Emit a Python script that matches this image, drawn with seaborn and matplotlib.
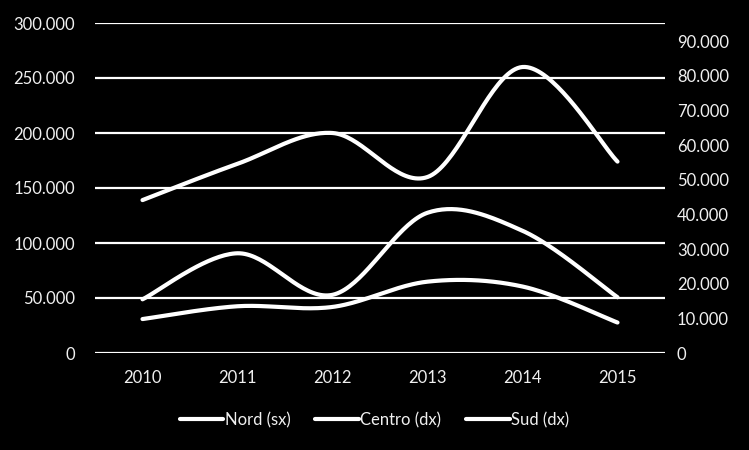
import numpy as np
import pandas as pd
import matplotlib
matplotlib.use("Agg")
import matplotlib.pyplot as plt
import seaborn as sns
from matplotlib.ticker import FuncFormatter

years = ["2010", "2011", "2012", "2013", "2014", "2015"]
nord = [139000, 172000, 200000, 160000, 260000, 174000]     # left axis (sx)
centro = [15500, 28800, 16800, 40500, 35300, 16100]         # right axis (dx)
sud = [9800, 13500, 13300, 20600, 19200, 8800]              # right axis (dx)

left_ticks = [0, 50000, 100000, 150000, 200000, 250000, 300000]
right_ticks = [0, 10000, 20000, 30000, 40000, 50000, 60000, 70000, 80000, 90000]


def smooth(xs, ys, n=40):
    """Excel-like smoothed line: Catmull-Rom Bezier between points."""
    P = np.column_stack([xs, ys]).astype(float)
    out = []
    for i in range(len(P) - 1):
        p0 = P[i - 1] if i > 0 else P[i]
        p1, p2 = P[i], P[i + 1]
        p3 = P[i + 2] if i + 2 < len(P) else P[i + 1]
        c1 = p1 + (p2 - p0) / 6
        c2 = p2 - (p3 - p1) / 6
        t = np.linspace(0, 1, n)[:, None]
        seg = ((1 - t) ** 3) * p1 + 3 * ((1 - t) ** 2) * t * c1 + 3 * (1 - t) * t ** 2 * c2 + t ** 3 * p2
        out.append(seg if i == 0 else seg[1:])
    a = np.vstack(out)
    return a[:, 0], a[:, 1]


def fmt(v, pos=None):
    return f"{int(round(v)):,}".replace(",", ".")


sns.set_theme(style="dark")
plt.rcParams["font.family"] = ["Lato", "DejaVu Sans"]

fig = plt.figure(figsize=(7.49, 4.5), dpi=100, facecolor="black")
ax = fig.add_axes([95 / 749, 1 - 353 / 450, 570 / 749, 330 / 450])
ax2 = ax.twinx()
for a in (ax, ax2):
    a.set_facecolor("none")
    for s in a.spines.values():
        s.set_visible(False)
ax.set_facecolor("black")

x = np.arange(len(years))
lw = 3.0
sx, sy = smooth(x, nord)
sns.lineplot(x=sx, y=sy, ax=ax, color="white", lw=lw, sort=False, label="Nord (sx)", legend=False)
cx, cy = smooth(x, centro)
sns.lineplot(x=cx, y=cy, ax=ax2, color="white", lw=lw, sort=False, label="Centro (dx)", legend=False)
ux, uy = smooth(x, sud)
sns.lineplot(x=ux, y=uy, ax=ax2, color="white", lw=lw, sort=False, label="Sud (dx)", legend=False)

ax.set_xlim(-0.5, len(years) - 0.5)
ax.set_ylim(0, 300000)
ax2.set_ylim(0, 95300)
ax.set_yticks(left_ticks)
ax2.set_yticks(right_ticks)
ax.yaxis.set_major_formatter(FuncFormatter(fmt))
ax2.yaxis.set_major_formatter(FuncFormatter(fmt))
ax.set_xticks(x)
ax.set_xticklabels(years)

ax.grid(False)
ax2.grid(False)
for v in left_ticks:
    ax.axhline(v, color="white", lw=1.6, zorder=0)

tc = "#f0f0f0"
fs = 12
ax.tick_params(axis="both", length=0, colors=tc, labelsize=fs)
ax.tick_params(axis="y", pad=14.5)
ax.tick_params(axis="x", pad=12)
ax2.tick_params(axis="y", length=0, colors=tc, labelsize=fs, pad=8.6)
ax.set_xlabel("")
ax.set_ylabel("")
ax2.set_ylabel("")

h1, l1 = ax.get_legend_handles_labels()
h2, l2 = ax2.get_legend_handles_labels()
leg = fig.legend(h1 + h2, l1 + l2, loc="center", bbox_to_anchor=(0.5, 1 - 420 / 450), ncol=3,
                 frameon=False, fontsize=fs, labelcolor=tc, handlelength=2.6,
                 handletextpad=0.1, columnspacing=1.5)

fig.savefig("out.png", dpi=100, facecolor="black")
